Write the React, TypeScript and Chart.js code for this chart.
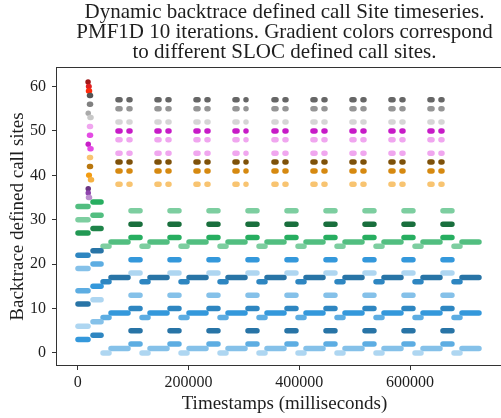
import React, { useEffect, useRef } from 'react';
import { Chart, registerables } from 'chart.js';

Chart.register(...registerables);

// ---------- text ----------
const TITLE_LINES = [
  'Dynamic backtrace defined call Site timeseries.',
  'PMF1D 10 iterations. Gradient colors correspond',
  'to different SLOC defined call sites.',
];
const X_LABEL = 'Timestamps (milliseconds)';
const Y_LABEL = 'Backtrace defined call sites';

// ---------- axes ----------
const X_TICKS = [0, 200000, 400000, 600000];
const Y_TICKS = [0, 10, 20, 30, 40, 50, 60];
const X_RANGE = [-39200, 785800];
const Y_RANGE = [-2.95, 64.4];

// ---------- iteration 1 (warm-up) ----------
const warmupEarlySites = [3, 6, 11, 14, 19, 22, 27, 30, 33];
const warmupEarlyWindows = [[500, 18600]];
const warmupLateSites = [4, 7, 12, 15, 20, 23, 28, 31, 34];
const warmupLateWindows = [[27600, 42100]];

// start-up stack of single call sites (iteration 1)
const stackSites = [35, 36, 37, 39, 40, 42, 44, 46, 47, 49, 51, 53, 54, 56, 58, 59, 60, 61];
const stackWindows = [
  [19500, 21300], [19000, 20000], [19000, 20000], [23100, 24900], [19900, 20900],
  [21300, 23100], [21300, 23100], [22200, 24000], [19000, 20000], [21300, 23100],
  [21300, 23100], [22200, 24000], [19000, 20000], [21300, 23100], [21300, 23100],
  [19500, 21300], [19600, 20500], [18700, 19600],
];

// ---------- steady iterations ----------
const phaseASites = [2, 5, 10, 13, 18, 21, 26, 29, 32];
const phaseAWindows = [
  [96200, 112500], [166600, 182800], [237000, 253200], [307400, 323600], [377800, 394000],
  [448200, 464400], [518600, 534800], [589000, 605200], [659400, 675600],
];
const phaseBSites = [0, 8, 16, 24];
const phaseBWindows = [
  [45700, 56500], [116100, 126900], [186500, 197300], [256900, 267700], [327300, 338100],
  [397700, 408500], [468100, 478900], [538500, 549300], [608900, 619700], [679300, 690100],
];
const phaseCSites = [1, 9, 17, 25];
const phaseCWindows = [
  [60100, 90800], [130500, 161200], [200900, 231600], [271300, 302000], [341700, 372400],
  [412100, 442800], [482500, 513200], [552900, 583600], [623300, 654000], [693700, 724400],
];
const upperSites = [38, 41, 43, 45, 48, 50, 52, 55, 57];
const upperEarlyWindows = [
  [72700, 76400], [143100, 146800], [213500, 217200], [283900, 287600], [354300, 358000],
  [424700, 428400], [495100, 498800], [565500, 569200], [635900, 639600],
];
const upperLateWindows = [
  [92600, 94400], [163000, 164800], [233400, 235200], [303800, 305600], [374200, 376000],
  [444600, 446400], [515000, 516800], [585400, 587200], [655800, 657600],
];

// ---------- colours, one per call site (0..61) ----------
const siteColors = [
  '#aed6f1', '#85c1e9', '#5dade2', '#3498db', '#2e86c1', '#2874a6',
  '#aed6f1', '#85c1e9', '#5dade2', '#3498db', '#2e86c1', '#2874a6',
  '#aed6f1', '#85c1e9', '#5dade2', '#3498db', '#2e86c1', '#2874a6',
  '#aed6f1', '#85c1e9', '#5dade2', '#3498db', '#2e86c1', '#2874a6',
  '#7dcea0', '#52be80', '#27ae60', '#229954', '#1e8449', '#196f3d',
  '#7dcea0', '#52be80', '#7dcea0', '#52be80', '#27ae60',
  '#bb8fce', '#8e44ad', '#6c3483',
  '#f8c471', '#f5b041', '#f39c12', '#d68910', '#b9770e', '#7e5109', '#f8c471',
  '#f0a6ef', '#e44ce4', '#c81ec8', '#f0a6ef', '#e44ce4', '#c71ac7', '#f0a6ef',
  '#d5d5d5', '#c8c8c8', '#aaaaaa', '#959595', '#808080', '#666666', '#555555',
  '#ff2a0a', '#e02020', '#a01818',
];

const SERIF = "'Liberation Serif', 'Times New Roman', serif";
const TEXT = '#1e1e1e';
const AXIS = '#333333';

function buildDatasets() {
  const bySite: number[][][] = siteColors.map(() => []);
  const add = (sites: number[], windows: number[][]) =>
    sites.forEach((s) => windows.forEach((w) => bySite[s].push([w[0], w[1]])));
  add(warmupEarlySites, warmupEarlyWindows);
  add(warmupLateSites, warmupLateWindows);
  add(phaseASites, phaseAWindows);
  add(phaseBSites, phaseBWindows);
  add(phaseCSites, phaseCWindows);
  add(upperSites, upperEarlyWindows);
  add(upperSites, upperLateWindows);
  stackSites.forEach((s, i) => bySite[s].push(stackWindows[i]));

  return bySite.map((segs, site) => {
    segs.sort((a, b) => a[0] - b[0]);
    const data: { x: number; y: number | null }[] = [];
    segs.forEach((seg, i) => {
      if (i > 0) data.push({ x: (segs[i - 1][1] + seg[0]) / 2, y: null });
      data.push({ x: seg[0], y: site }, { x: seg[1], y: site });
    });
    return {
      label: `site ${site}`,
      data,
      borderColor: siteColors[site],
      backgroundColor: siteColors[site],
      borderWidth: 5.5,
      borderCapStyle: 'round',
      borderJoinStyle: 'round',
      pointRadius: 0,
      pointHoverRadius: 0,
      spanGaps: false,
      tension: 0,
      fill: false,
    };
  });
}

const framePlugin = {
  id: 'frame',
  afterDatasetsDraw(chart: any) {
    const { ctx, chartArea } = chart;
    const l = Math.round(chartArea.left) + 0.5;
    const t = Math.round(chartArea.top) + 0.5;
    const r = Math.round(chartArea.right) - 0.5;
    const b = Math.round(chartArea.bottom) - 0.5;
    ctx.save();
    ctx.strokeStyle = AXIS;
    ctx.lineWidth = 1;
    ctx.strokeRect(l, t, r - l, b - t);
    ctx.restore();
  },
};

export default function App() {
  const ref = useRef<HTMLCanvasElement | null>(null);

  useEffect(() => {
    if (!ref.current) return;
    const tickFont = { family: SERIF, size: 16, weight: 'normal' as const };
    const labelFont = { family: SERIF, size: 19, weight: 'normal' as const };
    const chart = new Chart(ref.current, {
      type: 'line',
      data: { datasets: buildDatasets() as any },
      plugins: [framePlugin],
      options: {
        animation: false,
        responsive: false,
        devicePixelRatio: 1,
        events: [],
        layout: { padding: 0 },
        plugins: {
          legend: { display: false },
          tooltip: { enabled: false },
          title: {
            display: true,
            text: TITLE_LINES,
            color: TEXT,
            font: { family: SERIF, size: 21, weight: 'normal', lineHeight: '20px' } as any,
            padding: { top: 2, bottom: 5 },
          },
        },
        scales: {
          x: {
            type: 'linear',
            min: X_RANGE[0],
            max: X_RANGE[1],
            afterBuildTicks: (s: any) => {
              s.ticks = X_TICKS.map((v) => ({ value: v }));
            },
            afterFit: (s: any) => {
              s.height = 52;
            },
            ticks: {
              callback: (v: any) => String(v),
              font: tickFont,
              color: TEXT,
              padding: 3,
              maxRotation: 0,
              autoSkip: false,
            },
            grid: { display: true, drawOnChartArea: false, drawTicks: true, tickLength: 4, tickColor: AXIS, tickWidth: 1 },
            border: { display: false },
            title: { display: true, text: X_LABEL, color: TEXT, font: labelFont, padding: { top: 0, bottom: 3 } },
          },
          y: {
            type: 'linear',
            position: 'left',
            min: Y_RANGE[0],
            max: Y_RANGE[1],
            afterBuildTicks: (s: any) => {
              s.ticks = Y_TICKS.map((v) => ({ value: v }));
            },
            afterFit: (s: any) => {
              s.width = 56;
            },
            ticks: {
              callback: (v: any) => String(v),
              font: tickFont,
              color: TEXT,
              padding: 6,
              autoSkip: false,
            },
            grid: { display: true, drawOnChartArea: false, drawTicks: true, tickLength: 4, tickColor: AXIS, tickWidth: 1 },
            border: { display: false },
            title: { display: true, text: Y_LABEL, color: TEXT, font: labelFont, padding: { top: 7, bottom: 0 } },
          },
          yr: {
            type: 'linear',
            position: 'right',
            display: true,
            min: 0,
            max: 1,
            afterFit: (s: any) => {
              s.width = 56;
            },
            ticks: { display: false },
            grid: { display: false },
            border: { display: false },
          },
        },
      } as any,
    });
    return () => chart.destroy();
  }, []);

  return (
    <div
      style={{
        position: 'fixed',
        left: 0,
        top: 0,
        width: 501,
        height: 418,
        overflow: 'hidden',
        background: '#ffffff',
      }}
    >
      <canvas ref={ref} width={569} height={418} style={{ display: 'block', width: 569, height: 418 }} />
    </div>
  );
}
